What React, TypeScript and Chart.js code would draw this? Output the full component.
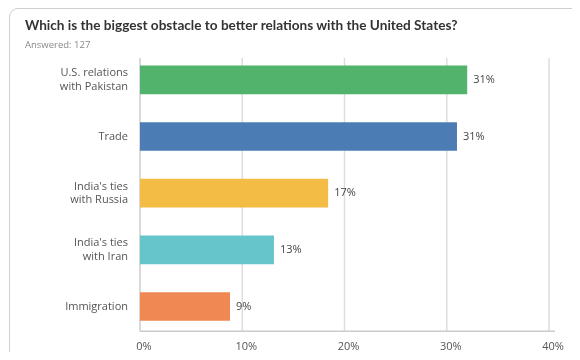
import React, { useEffect, useRef } from "react";
import { Chart, registerables } from "chart.js";

Chart.register(...registerables);

const title = "Which is the biggest obstacle to better relations with the United States?";
const subtitle = "Answered: 127";
const categories: string[][] = [
  ["U.S. relations", "with Pakistan"],
  ["Trade"],
  ["India's ties", "with Russia"],
  ["India's ties", "with Iran"],
  ["Immigration"],
];
const values = [32.0, 31.0, 18.4, 13.1, 8.8];
const valueLabels = ["31%", "31%", "17%", "13%", "9%"];
const colors = ["#52b46c", "#4b7cb4", "#f2bc45", "#66c5cb", "#ef8853"];
const xTicks = [0, 10, 20, 30, 40];

const FONT = "'Open Sans', 'Noto Sans', sans-serif";

const gridPlugin = {
  id: "shortGrid",
  beforeDatasetsDraw(chart: any) {
    const ctx = chart.ctx;
    const xs = chart.scales.x;
    const area = chart.chartArea;
    const top = area.top + 6.5;
    const bottom = area.bottom - 3.5;
    ctx.save();
    ctx.lineWidth = 1.5;
    xs.ticks.forEach((t: any) => {
      const px = xs.getPixelForValue(t.value);
      ctx.strokeStyle = t.value === 0 ? "#cccccc" : "#dddddd";
      ctx.beginPath();
      ctx.moveTo(px, top);
      ctx.lineTo(px, bottom);
      ctx.stroke();
    });
    ctx.strokeStyle = "#cccccc";
    ctx.beginPath();
    ctx.moveTo(xs.getPixelForValue(0), bottom);
    ctx.lineTo(xs.getPixelForValue(40) + 6, bottom);
    ctx.stroke();
    ctx.restore();
  },
};

const valueLabelPlugin = {
  id: "valueLabels",
  afterDatasetsDraw(chart: any) {
    const ctx = chart.ctx;
    const meta = chart.getDatasetMeta(0);
    ctx.save();
    ctx.font = `11px ${FONT}`;
    ctx.fillStyle = "#444";
    ctx.textBaseline = "middle";
    ctx.textAlign = "left";
    meta.data.forEach((bar: any, i: number) => {
      ctx.fillText(valueLabels[i], bar.x + 6, bar.y);
    });
    ctx.restore();
  },
};

export default function App() {
  const ref = useRef<HTMLCanvasElement>(null);
  useEffect(() => {
    if (!ref.current) return;
    const chart = new Chart(ref.current, {
      type: "bar",
      data: {
        labels: categories,
        datasets: [
          {
            data: values,
            backgroundColor: colors,
            borderWidth: 0,
            categoryPercentage: 1,
            barPercentage: 0.506,
          },
        ],
      },
      options: {
        indexAxis: "y",
        animation: false,
        responsive: false,
        maintainAspectRatio: false,
        layout: { padding: { top: 51.5, right: 31, left: 0, bottom: 0 } },
        plugins: { legend: { display: false }, tooltip: { enabled: false } },
        scales: {
          x: {
            min: 0,
            max: 40,
            afterBuildTicks: (s: any) => {
              s.ticks = xTicks.map((v) => ({ value: v }));
            },
            afterFit: (s: any) => {
              s.height = 19;
            },
            grid: { display: false, drawTicks: false },
            border: { display: false },
            ticks: {
              padding: 5,
              labelOffset: 4,
              color: "#555",
              font: { family: FONT, size: 11 },
              callback: (v: any) => `${v}%`,
            },
          },
          y: {
            afterFit: (s: any) => {
              s.width = 140;
            },
            grid: { display: false, drawTicks: false },
            border: { display: false },
            ticks: {
              padding: 12,
              color: "#555",
              font: { family: FONT, size: 11, lineHeight: 1.2 },
            },
          },
        },
      },
      plugins: [gridPlugin, valueLabelPlugin],
    });
    return () => chart.destroy();
  }, []);

  return (
    <div style={{ position: "relative", width: 580, height: 360, margin: -8, overflow: "hidden", background: "#fff" }}>
      <div
        style={{
          position: "absolute",
          left: 9,
          top: 8,
          width: 620,
          height: 349,
          border: "1px solid #cfcfcf",
          borderRadius: 9,
        }}
      />
      <canvas ref={ref} width={580} height={360} style={{ position: "absolute", left: 0, top: 0 }} />
      <div
        style={{
          position: "absolute",
          left: 25,
          top: 17,
          fontFamily: "Lato, sans-serif",
          fontWeight: 700,
          fontSize: 13.6,
          color: "#333",
          whiteSpace: "nowrap",
        }}
      >
        {title}
      </div>
      <div
        style={{
          position: "absolute",
          left: 25,
          top: 38,
          fontFamily: FONT,
          fontSize: 9.5,
          color: "#888",
          whiteSpace: "nowrap",
        }}
      >
        {subtitle}
      </div>
    </div>
  );
}
